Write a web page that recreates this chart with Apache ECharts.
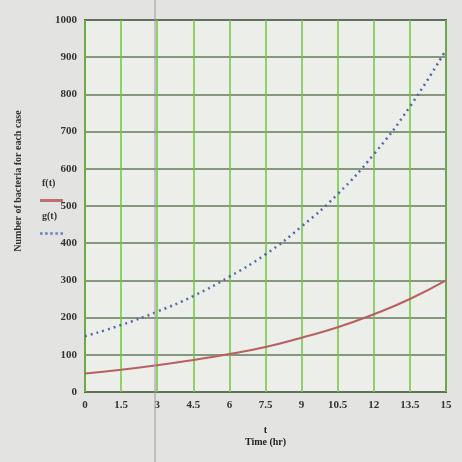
<!DOCTYPE html>
<html>
<head>
<meta charset="utf-8">
<script src="https://cdn.jsdelivr.net/npm/echarts@6/dist/echarts.min.js"></script>
<style>
  html, body { margin: 0; padding: 0; background: #e3e3e1; }
  #bacteria-chart { width: 462px; height: 462px; }
</style>
</head>
<body>
<div id="bacteria-chart"></div>
<script>
// time (hr) and the two bacteria counts
const times = [0, 1.5, 3, 4.5, 6, 7.5, 9, 10.5, 12, 13.5, 15];
const fValues = [50, 60, 72, 86, 102, 121, 146, 174, 209, 250, 300];
const gValues = [150, 180, 216, 258, 310, 370, 445, 532, 639, 767, 920];
const xTicks = ["0", "1.5", "3", "4.5", "6", "7.5", "9", "10.5", "12", "13.5", "15"];

const serif = "Liberation Serif";
const dottedIcon = "path://M0,0h3v3h-3zM6,0h3v3h-3zM12,0h3v3h-3zM18,0h3v3h-3zM24,0h3v3h-3z";
const chart = echarts.init(document.getElementById("bacteria-chart"));

chart.setOption({
  backgroundColor: "#e3e3e1",
  animation: false,
  textStyle: { fontFamily: serif },
  grid: { left: 85, right: 16, top: 20, bottom: 70, show: true, backgroundColor: "#eceeea", borderColor: "#555", borderWidth: 2 },
  legend: {
    orient: "vertical",
    left: 35, top: 170,
    itemWidth: 23, itemHeight: 3, itemGap: -18,
    formatter: (name) => name + "\n\n",
    textStyle: { fontFamily: serif, fontSize: 10, fontWeight: "bold", color: "#333", lineHeight: 17, padding: [0, 0, 0, -26] },
    data: [
      { name: "f(t)", icon: "rect", itemStyle: { color: "#c0706c" } },
      { name: "g(t)", icon: dottedIcon, itemStyle: { color: "#6a80c0" } }
    ]
  },
  xAxis: {
    type: "value",
    min: 0, max: 15, interval: 1.5,
    name: "t\nTime (hr)",
    nameLocation: "middle",
    nameGap: 32,
    nameTextStyle: { fontFamily: serif, fontSize: 10, fontWeight: "bold", color: "#222", lineHeight: 12 },
    axisLine: { show: false },
    axisTick: { show: false },
    axisLabel: { fontFamily: serif, fontSize: 11, color: "#333", fontWeight: "bold", margin: 8,
      formatter: (v) => xTicks[Math.round(v / 1.5)] },
    splitLine: { lineStyle: { color: "#73c545", width: 1.5 } }
  },
  yAxis: {
    type: "value",
    min: 0, max: 1000, interval: 100,
    name: "Number of bacteria for each case",
    nameLocation: "middle",
    nameRotate: 90,
    nameGap: 62,
    nameTextStyle: { fontFamily: serif, fontSize: 10, fontWeight: "bold", color: "#333", align: "center", padding: [0, 0, 0, 50] },
    axisLine: { show: false },
    axisTick: { show: false },
    axisLabel: { fontFamily: serif, fontSize: 11, color: "#333", fontWeight: "bold", margin: 8,
      formatter: (v) => String(v) },
    splitLine: { lineStyle: { color: "#667a5a", width: 1.5 } }
  },
  graphic: [
    { type: "line", shape: { x1: 155, y1: 0, x2: 155, y2: 462 }, style: { stroke: "#9a9a9a", lineWidth: 1 }, z: 100 }
  ],
  series: [
    {
      name: "f(t)",
      type: "line",
      smooth: true,
      symbol: "none",
      data: times.map((t, i) => [t, fValues[i]]),
      lineStyle: { color: "#b8605e", width: 2 },
      itemStyle: { color: "#b8605e" }
    },
    {
      name: "g(t)",
      type: "line",
      smooth: true,
      symbol: "none",
      data: times.map((t, i) => [t, gValues[i]]),
      lineStyle: { color: "#4f6aa6", width: 2.5, type: [2, 4] },
      itemStyle: { color: "#4f6aa6" }
    }
  ]
});
</script>
</body>
</html>
